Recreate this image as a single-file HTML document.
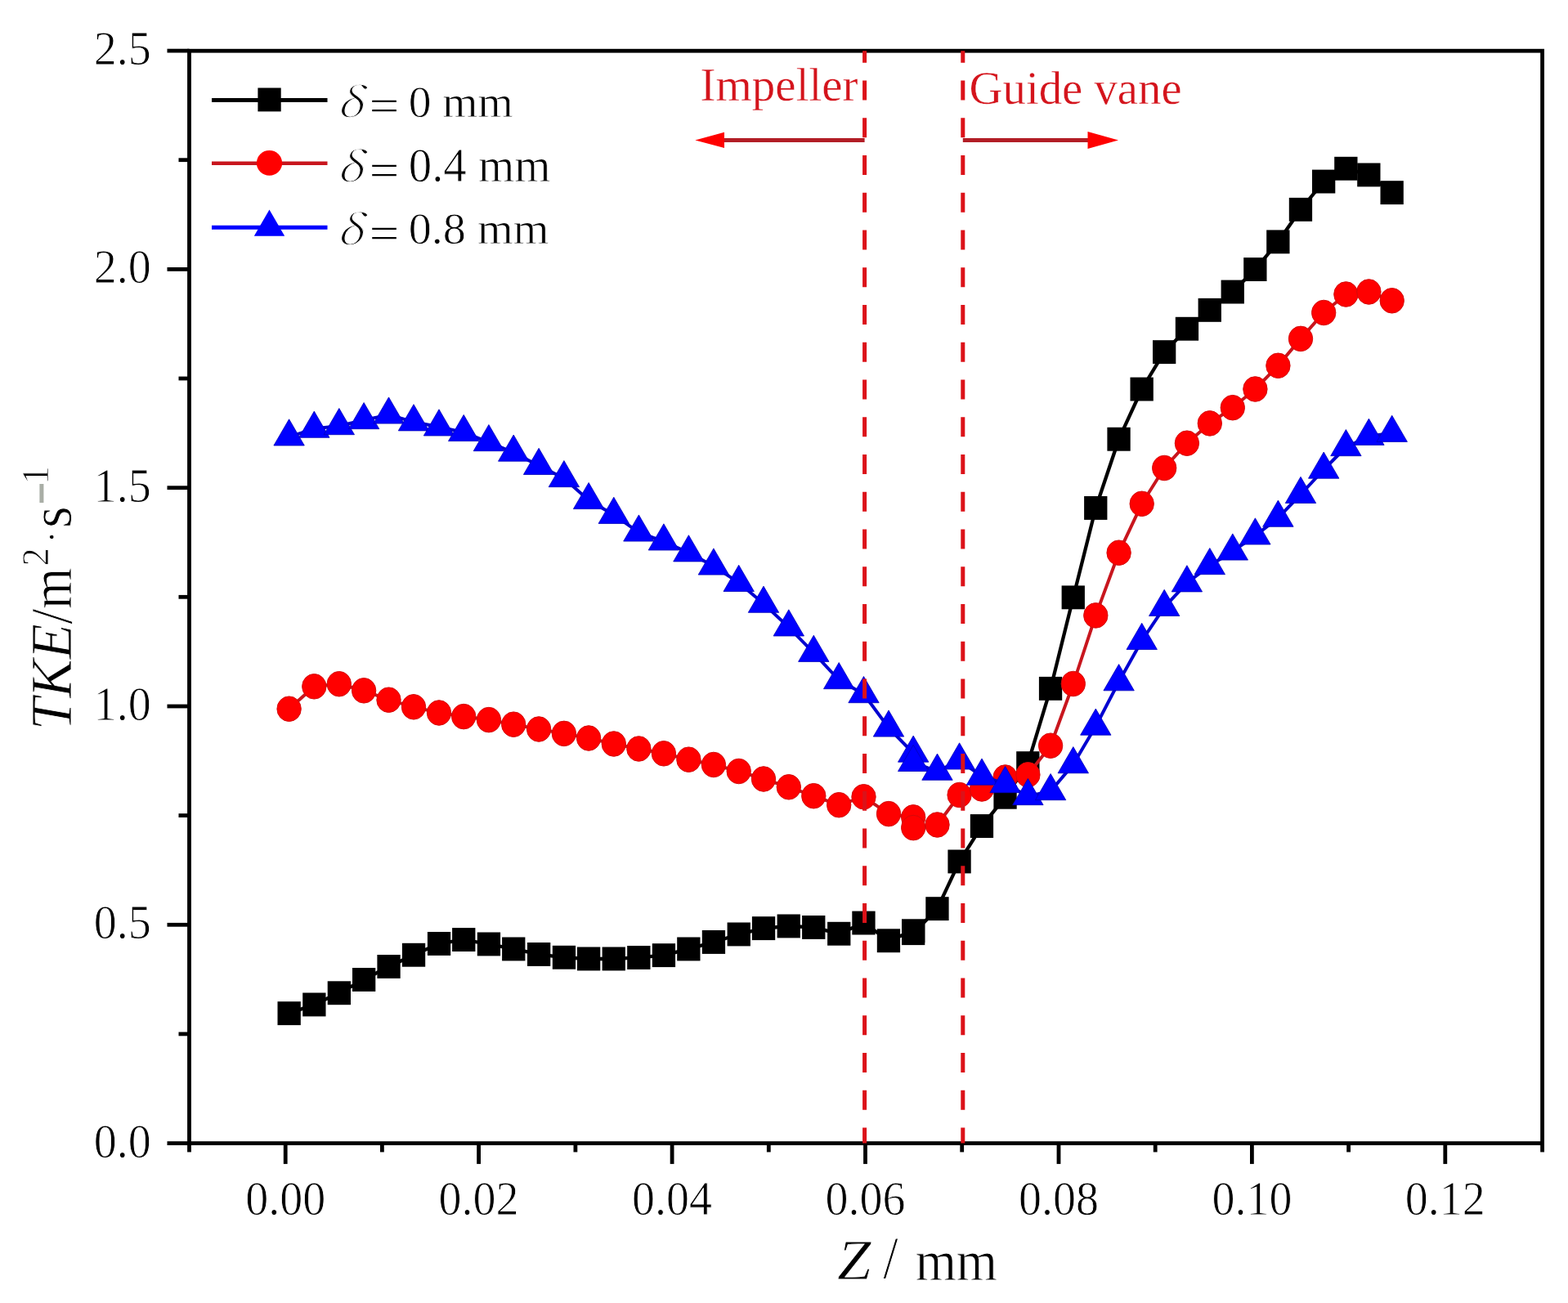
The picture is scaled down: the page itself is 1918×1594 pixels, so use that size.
<!DOCTYPE html>
<html><head><meta charset="utf-8"><title>TKE chart</title>
<style>html,body{margin:0;padding:0;background:#fff;}svg{display:block;}text{font-family:"Liberation Serif","Times New Roman",serif;stroke:#fff;stroke-width:0.8px;stroke-opacity:1.0;}</style>
</head><body>
<svg width="1918" height="1594" viewBox="0 0 1918 1594">
<rect width="1918" height="1594" fill="#fff"/>
<g stroke="#000" stroke-width="4.8" fill="none" stroke-linecap="butt">
<rect x="231.5" y="62.2" width="1655.1" height="1336.4" stroke-linejoin="miter"/>
<line x1="231.5" y1="1398.6" x2="231.5" y2="1409.4"/>
<line x1="349.2" y1="1398.6" x2="349.2" y2="1423.9"/>
<line x1="467.4" y1="1398.6" x2="467.4" y2="1409.4"/>
<line x1="585.6" y1="1398.6" x2="585.6" y2="1423.9"/>
<line x1="703.9" y1="1398.6" x2="703.9" y2="1409.4"/>
<line x1="822.1" y1="1398.6" x2="822.1" y2="1423.9"/>
<line x1="940.3" y1="1398.6" x2="940.3" y2="1409.4"/>
<line x1="1058.5" y1="1398.6" x2="1058.5" y2="1423.9"/>
<line x1="1176.7" y1="1398.6" x2="1176.7" y2="1409.4"/>
<line x1="1295" y1="1398.6" x2="1295" y2="1423.9"/>
<line x1="1413.2" y1="1398.6" x2="1413.2" y2="1409.4"/>
<line x1="1531.4" y1="1398.6" x2="1531.4" y2="1423.9"/>
<line x1="1649.6" y1="1398.6" x2="1649.6" y2="1409.4"/>
<line x1="1767.8" y1="1398.6" x2="1767.8" y2="1423.9"/>
<line x1="1886.6" y1="1398.6" x2="1886.6" y2="1409.4"/>
<line x1="231.5" y1="1398.6" x2="204.5" y2="1398.6"/>
<line x1="231.5" y1="1264.9" x2="218.5" y2="1264.9"/>
<line x1="231.5" y1="1131.3" x2="204.5" y2="1131.3"/>
<line x1="231.5" y1="997.6" x2="218.5" y2="997.6"/>
<line x1="231.5" y1="864" x2="204.5" y2="864"/>
<line x1="231.5" y1="730.3" x2="218.5" y2="730.3"/>
<line x1="231.5" y1="596.7" x2="204.5" y2="596.7"/>
<line x1="231.5" y1="463" x2="218.5" y2="463"/>
<line x1="231.5" y1="329.4" x2="204.5" y2="329.4"/>
<line x1="231.5" y1="195.7" x2="218.5" y2="195.7"/>
<line x1="231.5" y1="62.1" x2="204.5" y2="62.1"/>
</g>
<g font-size="56" fill="#000" text-anchor="middle">
<text transform="translate(349.2,1485.5) scale(1,1.04)">0.00</text>
<text transform="translate(585.6,1485.5) scale(1,1.04)">0.02</text>
<text transform="translate(822.1,1485.5) scale(1,1.04)">0.04</text>
<text transform="translate(1058.5,1485.5) scale(1,1.04)">0.06</text>
<text transform="translate(1295,1485.5) scale(1,1.04)">0.08</text>
<text transform="translate(1531.4,1485.5) scale(1,1.04)">0.10</text>
<text transform="translate(1767.8,1485.5) scale(1,1.04)">0.12</text>
</g>
<g font-size="56" fill="#000" text-anchor="end">
<text transform="translate(184.8,1415.6) scale(1,1.04)">0.0</text>
<text transform="translate(184.8,1148.3) scale(1,1.04)">0.5</text>
<text transform="translate(184.8,881) scale(1,1.04)">1.0</text>
<text transform="translate(184.8,613.7) scale(1,1.04)">1.5</text>
<text transform="translate(184.8,346.4) scale(1,1.04)">2.0</text>
<text transform="translate(184.8,79.1) scale(1,1.04)">2.5</text>
</g>
<text transform="translate(1023.92,1565.00) scale(1.0818,1.0131)" font-size="69" font-style="italic">Z</text>
<text transform="translate(1080.25,1563.83) scale(1.0000,1.1115)" font-size="66">/</text>
<text transform="translate(1119.63,1565.97) scale(0.9780,1.0549)" font-size="66">mm</text>
<text transform="translate(86.50,893.36) rotate(-90) scale(1.0375,1.0350)" font-size="68.5" font-style="italic">TKE</text>
<text transform="translate(86.50,763.70) rotate(-90) scale(1.0000,1.0350)" font-size="68.5">/</text>
<text transform="translate(86.50,744.94) rotate(-90) scale(0.9432,1.0350)" font-size="68.5">m</text>
<text transform="translate(58.90,692.25) rotate(-90) scale(1.0000,1.0350)" font-size="44">2</text>
<text transform="translate(79.35,664.15) rotate(-90) scale(1.0000,1.0350)" font-size="44">·</text>
<text transform="translate(86.50,645.95) rotate(-90) scale(1.0000,1.0350)" font-size="68.5">s</text>
<text transform="translate(65.50,615.75) rotate(-90) scale(1.0000,1.0350)" font-size="44" fill="#a9aea6" style="stroke:#a9aea6;stroke-width:2.6px">−</text>
<text transform="translate(58.90,592.35) rotate(-90) scale(1.0000,1.0350)" font-size="44">1</text>
<polyline points="353.6,1239.7 384.3,1228.9 414.8,1214.8 445.1,1198.4 475.5,1182.5 506,1168.2 537,1154.4 567.2,1149.6 597.9,1155 628.2,1160.9 659.1,1167.4 689.9,1171.3 720.1,1173 750.8,1173 781.4,1171.4 811.9,1168.7 842.4,1160.9 872.9,1152.5 903.7,1143 934,1135.7 964.8,1133 995.3,1134.4 1026.2,1142.3 1056.5,1129.1 1087,1150.8 1117.2,1138.8 1117.2,1141.7 1146.5,1111.7 1173.6,1053.9 1201,1010.6 1229.6,975.2 1257.4,933.7 1285.1,842.4 1312.8,730.9 1340.3,621.5 1368.6,537.2 1396.7,476 1424.2,430.7 1451.9,402.2 1479.8,379.4 1507.8,357 1535.4,329.5 1563.4,295.8 1591,256.3 1619.2,222 1646.4,206.2 1674.4,213.9 1702.7,235.7" fill="none" stroke="#000" stroke-width="4.3" stroke-linejoin="round"/>
<g fill="#000">
<rect x="339.5" y="1225.2" width="28.3" height="28.9"/>
<rect x="370.2" y="1214.5" width="28.3" height="28.9"/>
<rect x="400.7" y="1200.3" width="28.3" height="28.9"/>
<rect x="431" y="1184" width="28.3" height="28.9"/>
<rect x="461.4" y="1168" width="28.3" height="28.9"/>
<rect x="491.9" y="1153.8" width="28.3" height="28.9"/>
<rect x="522.9" y="1140" width="28.3" height="28.9"/>
<rect x="553.1" y="1135.1" width="28.3" height="28.9"/>
<rect x="583.8" y="1140.5" width="28.3" height="28.9"/>
<rect x="614.1" y="1146.5" width="28.3" height="28.9"/>
<rect x="645" y="1153" width="28.3" height="28.9"/>
<rect x="675.8" y="1156.8" width="28.3" height="28.9"/>
<rect x="706" y="1158.5" width="28.3" height="28.9"/>
<rect x="736.6" y="1158.5" width="28.3" height="28.9"/>
<rect x="767.2" y="1157" width="28.3" height="28.9"/>
<rect x="797.8" y="1154.2" width="28.3" height="28.9"/>
<rect x="828.2" y="1146.5" width="28.3" height="28.9"/>
<rect x="858.8" y="1138" width="28.3" height="28.9"/>
<rect x="889.6" y="1128.5" width="28.3" height="28.9"/>
<rect x="919.9" y="1121.2" width="28.3" height="28.9"/>
<rect x="950.6" y="1118.5" width="28.3" height="28.9"/>
<rect x="981.1" y="1120" width="28.3" height="28.9"/>
<rect x="1012.1" y="1127.8" width="28.3" height="28.9"/>
<rect x="1042.3" y="1114.6" width="28.3" height="28.9"/>
<rect x="1072.8" y="1136.3" width="28.3" height="28.9"/>
<rect x="1103" y="1124.3" width="28.3" height="28.9"/>
<rect x="1103" y="1127.2" width="28.3" height="28.9"/>
<rect x="1132.3" y="1097.2" width="28.3" height="28.9"/>
<rect x="1159.4" y="1039.5" width="28.3" height="28.9"/>
<rect x="1186.8" y="996.1" width="28.3" height="28.9"/>
<rect x="1215.4" y="960.8" width="28.3" height="28.9"/>
<rect x="1243.2" y="919.2" width="28.3" height="28.9"/>
<rect x="1270.9" y="827.9" width="28.3" height="28.9"/>
<rect x="1298.6" y="716.4" width="28.3" height="28.9"/>
<rect x="1326.1" y="607" width="28.3" height="28.9"/>
<rect x="1354.4" y="522.8" width="28.3" height="28.9"/>
<rect x="1382.5" y="461.6" width="28.3" height="28.9"/>
<rect x="1410" y="416.2" width="28.3" height="28.9"/>
<rect x="1437.8" y="387.8" width="28.3" height="28.9"/>
<rect x="1465.6" y="364.9" width="28.3" height="28.9"/>
<rect x="1493.6" y="342.6" width="28.3" height="28.9"/>
<rect x="1521.2" y="315.1" width="28.3" height="28.9"/>
<rect x="1549.2" y="281.4" width="28.3" height="28.9"/>
<rect x="1576.8" y="241.9" width="28.3" height="28.9"/>
<rect x="1605" y="207.6" width="28.3" height="28.9"/>
<rect x="1632.2" y="191.8" width="28.3" height="28.9"/>
<rect x="1660.2" y="199.5" width="28.3" height="28.9"/>
<rect x="1688.5" y="221.2" width="28.3" height="28.9"/>
</g>
<polyline points="353.6,867.2 384.3,839.8 414.8,836.7 445.1,844.8 475.5,856.2 506,864.8 537,872 567.2,876.6 597.9,880.6 628.2,886.2 659.1,892 689.9,897.4 720.1,903 750.8,910 781.4,916 811.9,921.8 842.4,929.2 872.9,935.5 903.7,943.5 934,953 964.8,962.8 995.3,973.7 1026.2,984.7 1056.5,974.8 1087,995.6 1117.2,999.9 1117.2,1012.6 1146.5,1009 1173.6,972.5 1201,965 1229.6,951 1257.4,947.8 1285.1,912.2 1312.8,836.5 1340.3,752.9 1368.6,676.2 1396.7,616.3 1424.2,572.5 1451.9,542.2 1479.8,517.9 1507.8,498.7 1535.4,476 1563.4,447.3 1591,414.4 1619.2,382.5 1646.4,360 1674.4,357 1702.7,367.8" fill="none" stroke="#c8161e" stroke-width="4" stroke-linejoin="round"/>
<g fill="#ff0000" stroke="#d40a0a" stroke-width="1">
<ellipse cx="353.6" cy="867.2" rx="14.7" ry="15.3"/>
<ellipse cx="384.3" cy="839.8" rx="14.7" ry="15.3"/>
<ellipse cx="414.8" cy="836.7" rx="14.7" ry="15.3"/>
<ellipse cx="445.1" cy="844.8" rx="14.7" ry="15.3"/>
<ellipse cx="475.5" cy="856.2" rx="14.7" ry="15.3"/>
<ellipse cx="506" cy="864.8" rx="14.7" ry="15.3"/>
<ellipse cx="537" cy="872" rx="14.7" ry="15.3"/>
<ellipse cx="567.2" cy="876.6" rx="14.7" ry="15.3"/>
<ellipse cx="597.9" cy="880.6" rx="14.7" ry="15.3"/>
<ellipse cx="628.2" cy="886.2" rx="14.7" ry="15.3"/>
<ellipse cx="659.1" cy="892" rx="14.7" ry="15.3"/>
<ellipse cx="689.9" cy="897.4" rx="14.7" ry="15.3"/>
<ellipse cx="720.1" cy="903" rx="14.7" ry="15.3"/>
<ellipse cx="750.8" cy="910" rx="14.7" ry="15.3"/>
<ellipse cx="781.4" cy="916" rx="14.7" ry="15.3"/>
<ellipse cx="811.9" cy="921.8" rx="14.7" ry="15.3"/>
<ellipse cx="842.4" cy="929.2" rx="14.7" ry="15.3"/>
<ellipse cx="872.9" cy="935.5" rx="14.7" ry="15.3"/>
<ellipse cx="903.7" cy="943.5" rx="14.7" ry="15.3"/>
<ellipse cx="934" cy="953" rx="14.7" ry="15.3"/>
<ellipse cx="964.8" cy="962.8" rx="14.7" ry="15.3"/>
<ellipse cx="995.3" cy="973.7" rx="14.7" ry="15.3"/>
<ellipse cx="1026.2" cy="984.7" rx="14.7" ry="15.3"/>
<ellipse cx="1056.5" cy="974.8" rx="14.7" ry="15.3"/>
<ellipse cx="1087" cy="995.6" rx="14.7" ry="15.3"/>
<ellipse cx="1117.2" cy="999.9" rx="14.7" ry="15.3"/>
<ellipse cx="1117.2" cy="1012.6" rx="14.7" ry="15.3"/>
<ellipse cx="1146.5" cy="1009" rx="14.7" ry="15.3"/>
<ellipse cx="1173.6" cy="972.5" rx="14.7" ry="15.3"/>
<ellipse cx="1201" cy="965" rx="14.7" ry="15.3"/>
<ellipse cx="1229.6" cy="951" rx="14.7" ry="15.3"/>
<ellipse cx="1257.4" cy="947.8" rx="14.7" ry="15.3"/>
<ellipse cx="1285.1" cy="912.2" rx="14.7" ry="15.3"/>
<ellipse cx="1312.8" cy="836.5" rx="14.7" ry="15.3"/>
<ellipse cx="1340.3" cy="752.9" rx="14.7" ry="15.3"/>
<ellipse cx="1368.6" cy="676.2" rx="14.7" ry="15.3"/>
<ellipse cx="1396.7" cy="616.3" rx="14.7" ry="15.3"/>
<ellipse cx="1424.2" cy="572.5" rx="14.7" ry="15.3"/>
<ellipse cx="1451.9" cy="542.2" rx="14.7" ry="15.3"/>
<ellipse cx="1479.8" cy="517.9" rx="14.7" ry="15.3"/>
<ellipse cx="1507.8" cy="498.7" rx="14.7" ry="15.3"/>
<ellipse cx="1535.4" cy="476" rx="14.7" ry="15.3"/>
<ellipse cx="1563.4" cy="447.3" rx="14.7" ry="15.3"/>
<ellipse cx="1591" cy="414.4" rx="14.7" ry="15.3"/>
<ellipse cx="1619.2" cy="382.5" rx="14.7" ry="15.3"/>
<ellipse cx="1646.4" cy="360" rx="14.7" ry="15.3"/>
<ellipse cx="1674.4" cy="357" rx="14.7" ry="15.3"/>
<ellipse cx="1702.7" cy="367.8" rx="14.7" ry="15.3"/>
</g>
<polyline points="353.6,534.3 384.3,524.6 414.8,521 445.1,514 475.5,507.4 506,516.2 537,522.3 567.2,528.9 597.9,541 628.2,553.5 659.1,569.8 689.9,585 720.1,611.9 750.8,629.7 781.4,651.4 811.9,662.3 842.4,676.2 872.9,692.4 903.7,712.8 934,738.6 964.8,767.3 995.3,798.7 1026.2,832 1056.5,849 1087,890.4 1117.2,921.5 1117.2,932.8 1146.5,943.6 1173.6,930.3 1201,949.5 1229.6,959 1257.4,974 1285.1,968 1312.8,935.1 1340.3,888.5 1368.6,834.1 1396.7,783.8 1424.2,742.8 1451.9,713.2 1479.8,692 1507.8,674.4 1535.4,655.3 1563.4,633.6 1591,604.8 1619.2,574.5 1646.4,547 1674.4,533.7 1702.7,529.7" fill="none" stroke="#0000d0" stroke-width="4" stroke-linejoin="round"/>
<g fill="#0000ff" stroke="#0000b8" stroke-width="0.8" stroke-linejoin="round">
<polygon points="353.6,512.8 334.9,545 372.3,545"/>
<polygon points="384.3,503.1 365.6,535.3 403,535.3"/>
<polygon points="414.8,499.5 396.1,531.7 433.5,531.7"/>
<polygon points="445.1,492.5 426.4,524.7 463.8,524.7"/>
<polygon points="475.5,485.9 456.8,518.1 494.2,518.1"/>
<polygon points="506,494.7 487.3,526.9 524.7,526.9"/>
<polygon points="537,500.8 518.3,533 555.7,533"/>
<polygon points="567.2,507.4 548.5,539.6 585.9,539.6"/>
<polygon points="597.9,519.5 579.2,551.7 616.6,551.7"/>
<polygon points="628.2,532 609.5,564.2 646.9,564.2"/>
<polygon points="659.1,548.3 640.4,580.5 677.8,580.5"/>
<polygon points="689.9,563.5 671.2,595.7 708.6,595.7"/>
<polygon points="720.1,590.4 701.4,622.6 738.8,622.6"/>
<polygon points="750.8,608.2 732.1,640.4 769.5,640.4"/>
<polygon points="781.4,629.9 762.7,662.1 800.1,662.1"/>
<polygon points="811.9,640.8 793.2,673 830.6,673"/>
<polygon points="842.4,654.7 823.7,686.9 861.1,686.9"/>
<polygon points="872.9,670.9 854.2,703.1 891.6,703.1"/>
<polygon points="903.7,691.3 885,723.5 922.4,723.5"/>
<polygon points="934,717.1 915.3,749.3 952.7,749.3"/>
<polygon points="964.8,745.8 946.1,778 983.5,778"/>
<polygon points="995.3,777.2 976.6,809.4 1014,809.4"/>
<polygon points="1026.2,810.5 1007.5,842.7 1044.9,842.7"/>
<polygon points="1056.5,827.5 1037.8,859.7 1075.2,859.7"/>
<polygon points="1087,868.9 1068.3,901.1 1105.7,901.1"/>
<polygon points="1117.2,900 1098.5,932.2 1135.9,932.2"/>
<polygon points="1117.2,911.3 1098.5,943.5 1135.9,943.5"/>
<polygon points="1146.5,922.1 1127.8,954.3 1165.2,954.3"/>
<polygon points="1173.6,908.8 1154.9,941 1192.3,941"/>
<polygon points="1201,928 1182.3,960.2 1219.7,960.2"/>
<polygon points="1229.6,937.5 1210.9,969.7 1248.3,969.7"/>
<polygon points="1257.4,952.5 1238.7,984.7 1276.1,984.7"/>
<polygon points="1285.1,946.5 1266.4,978.7 1303.8,978.7"/>
<polygon points="1312.8,913.6 1294.1,945.8 1331.5,945.8"/>
<polygon points="1340.3,867 1321.6,899.2 1359,899.2"/>
<polygon points="1368.6,812.6 1349.9,844.8 1387.3,844.8"/>
<polygon points="1396.7,762.3 1378,794.5 1415.4,794.5"/>
<polygon points="1424.2,721.3 1405.5,753.5 1442.9,753.5"/>
<polygon points="1451.9,691.7 1433.2,723.9 1470.6,723.9"/>
<polygon points="1479.8,670.5 1461.1,702.7 1498.5,702.7"/>
<polygon points="1507.8,652.9 1489.1,685.1 1526.5,685.1"/>
<polygon points="1535.4,633.8 1516.7,666 1554.1,666"/>
<polygon points="1563.4,612.1 1544.7,644.3 1582.1,644.3"/>
<polygon points="1591,583.3 1572.3,615.5 1609.7,615.5"/>
<polygon points="1619.2,553 1600.5,585.2 1637.9,585.2"/>
<polygon points="1646.4,525.5 1627.7,557.7 1665.1,557.7"/>
<polygon points="1674.4,512.2 1655.7,544.4 1693.1,544.4"/>
<polygon points="1702.7,508.2 1684,540.4 1721.4,540.4"/>
</g>
<g>
<line x1="259" y1="122.6" x2="400.5" y2="122.6" stroke="#000" stroke-width="5"/>
<g fill="#000"><rect x="315.4" y="107.5" width="28.3" height="28.9"/></g>
<line x1="259" y1="199.8" x2="400.5" y2="199.8" stroke="#c8161e" stroke-width="4.5"/>
<g fill="#ff0000"><ellipse cx="329.5" cy="199.4" rx="15.6" ry="15.3"/></g>
<line x1="259" y1="278.2" x2="400.5" y2="278.2" stroke="#0000ff" stroke-width="5"/>
<g fill="#0000ff"><polygon points="329.5,256.5 310.8,288.7 348.2,288.7"/></g>
</g>
<text transform="translate(412.92,143.21) scale(0.9730,0.8835)" font-size="56" font-style="italic" style="font-family:'Noto Serif CJK SC',serif;stroke:#fff;stroke-width:1.1px">δ</text>
<text transform="translate(452.90,148.10) scale(1.0489,0.9167)" font-size="56" style="font-family:'Noto Serif CJK SC',serif;stroke:none">=</text>
<text transform="translate(499.74,143.43) scale(0.9911,0.9631)" font-size="56">0 mm</text>
<text transform="translate(412.92,222.41) scale(0.9730,0.8858)" font-size="56" font-style="italic" style="font-family:'Noto Serif CJK SC',serif;stroke:#fff;stroke-width:1.1px">δ</text>
<text transform="translate(452.90,227.10) scale(1.0489,0.9167)" font-size="56" style="font-family:'Noto Serif CJK SC',serif;stroke:none">=</text>
<text transform="translate(499.68,222.36) scale(1.0162,1.0441)" font-size="56">0.4 mm</text>
<text transform="translate(412.92,299.22) scale(0.9730,0.8858)" font-size="56" font-style="italic" style="font-family:'Noto Serif CJK SC',serif;stroke:#fff;stroke-width:1.1px">δ</text>
<text transform="translate(452.90,303.92) scale(1.0489,0.9167)" font-size="56" style="font-family:'Noto Serif CJK SC',serif;stroke:none">=</text>
<text transform="translate(499.71,298.02) scale(1.0037,0.9990)" font-size="56">0.8 mm</text>
<line x1="1057.6" y1="62.2" x2="1057.6" y2="1398.6" stroke="#dc1219" stroke-width="5" stroke-dasharray="24 21.75" stroke-dashoffset="9.45"/>
<line x1="1177.8" y1="62.2" x2="1177.8" y2="1398.6" stroke="#dc1219" stroke-width="5" stroke-dasharray="24 21.75" stroke-dashoffset="9.45"/>
<g fill="#d4141c">
<text transform="translate(856.56,122.60) scale(1.0180,1.0350)" font-size="56" style="stroke-width:0.4px">Impeller</text>
<text transform="translate(1185.56,127.30) scale(1.0140,1.0350)" font-size="56" style="stroke-width:0.4px">Guide vane</text>
</g>
<g stroke="#b21e26" stroke-width="5" fill="none">
<line x1="1057.6" y1="171.4" x2="884" y2="171.4"/>
<line x1="1177.8" y1="171.4" x2="1332" y2="171.4"/>
</g>
<g fill="#f00">
<polygon points="850.3,171.4 886,161.8 886,181"/>
<polygon points="1368,171.4 1330.5,160.9 1330.5,182"/>
</g>
</svg>
</body></html>
